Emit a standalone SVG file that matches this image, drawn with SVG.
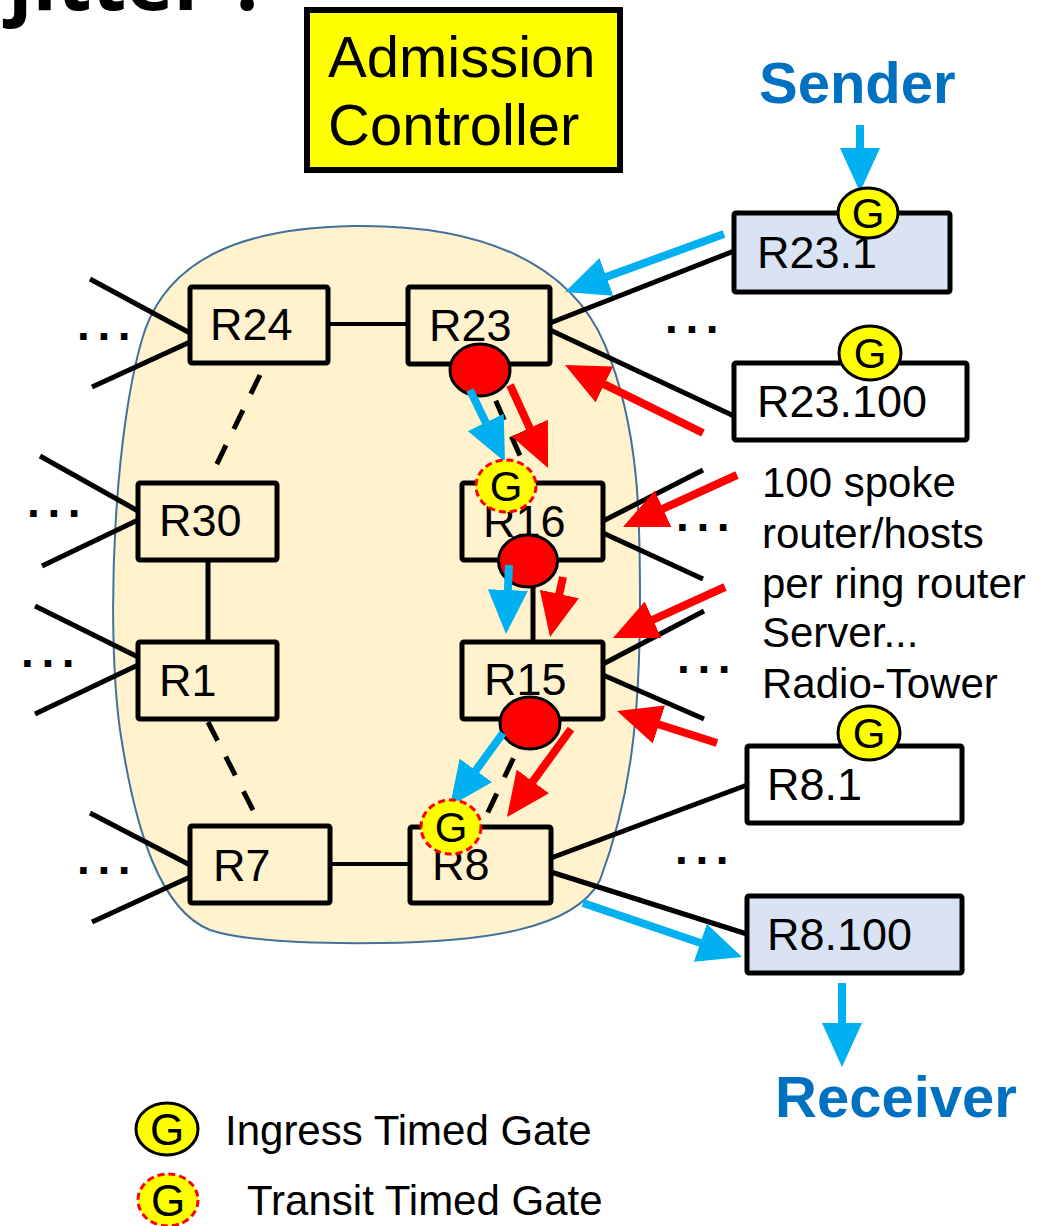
<svg xmlns="http://www.w3.org/2000/svg" width="1039" height="1226" viewBox="0 0 1039 1226">
<defs>
<style>
text{font-family:"Liberation Sans",Arial,sans-serif;fill:#000}
.box{stroke:#000;stroke-width:5}
.ring{fill:#FFF2CC}
.host{fill:#FFFFFF}
.ep{fill:#DAE3F3}
.lbl{font-size:45px}
.side{font-size:42px}
.dots{font-size:46px;font-weight:bold;letter-spacing:7.6px}
.ln{stroke:#000;stroke-width:5;fill:none}
.thin{stroke-width:4}
.dash{stroke-dasharray:21 18}
.ab{stroke:#00B0F0;stroke-width:8;fill:none;marker-end:url(#hb)}
.ar{stroke:#FF0000;stroke-width:8;fill:none;marker-end:url(#hr)}
.red{fill:#FF0000;stroke:#000;stroke-width:3}
.gi{fill:#FFFF00;stroke:#000;stroke-width:3}
.gt{fill:#FFFF00;stroke:#FF0000;stroke-width:3;stroke-dasharray:7 4}
.gl{font-size:42px;text-anchor:middle}
.big{font-weight:bold;fill:#0070C0;font-size:58px}
</style>
<marker id="hb" markerUnits="userSpaceOnUse" markerWidth="44" markerHeight="40" refX="12" refY="20" orient="auto" viewBox="0 0 44 40"><path d="M0,0 L44,20 L0,40 Z" fill="#00B0F0"/></marker>
<marker id="hr" markerUnits="userSpaceOnUse" markerWidth="44" markerHeight="40" refX="12" refY="20" orient="auto" viewBox="0 0 44 40"><path d="M0,0 L44,20 L0,40 Z" fill="#FF0000"/></marker>
</defs>
<rect width="1039" height="1226" fill="#FFFFFF"/>
<text x="8" y="10" style="font-family:'Open Sans',sans-serif;font-weight:bold;font-size:80px">jitter ?</text>

<g id="cloud">
<path d="M353,226 C480,224 570,262 605,345 C640,430 640,520 640,600 C640,720 630,800 600,880 C575,930 480,942 380,943 C300,944 240,940 210,930 C160,910 135,830 120,730 C105,620 115,420 145,330 C170,260 240,228 353,226 Z" fill="#FFF2CC" stroke="#41719C" stroke-width="2"/>
</g>

<g id="admission">
<rect x="307" y="10" width="313" height="160" fill="#FFFF00" stroke="#000" stroke-width="6"/>
<text x="328" y="77" style="font-size:58px">Admission</text>
<text x="328" y="145" style="font-size:58px">Controller</text>
</g>

<g id="connectors">
<line class="ln thin" x1="328" y1="324" x2="408" y2="324"/>
<line class="ln dash" x1="260" y1="375" x2="213" y2="472"/>
<line class="ln" x1="208" y1="560" x2="208" y2="642"/>
<line class="ln dash" x1="208" y1="722" x2="257" y2="818"/>
<line class="ln thin" x1="330" y1="864" x2="410" y2="864"/>
<line class="ln dash" x1="480" y1="365" x2="532" y2="483"/>
<line class="ln" x1="533" y1="587" x2="533" y2="642"/>
<line class="ln dash" x1="530" y1="723" x2="481" y2="827"/>
<line class="ln" x1="90" y1="279" x2="190" y2="333"/>
<line class="ln" x1="92" y1="387" x2="190" y2="342"/>
<line class="ln" x1="40" y1="456" x2="138" y2="511"/>
<line class="ln" x1="42" y1="566" x2="138" y2="520"/>
<line class="ln" x1="35" y1="606" x2="138" y2="657"/>
<line class="ln" x1="35" y1="714" x2="138" y2="665"/>
<line class="ln" x1="90" y1="813" x2="190" y2="865"/>
<line class="ln" x1="92" y1="922" x2="190" y2="877"/>
<line class="ln" x1="550" y1="323" x2="734" y2="251"/>
<line class="ln" x1="550" y1="330" x2="734" y2="416"/>
<line class="ln" x1="603" y1="521" x2="703" y2="470"/>
<line class="ln" x1="603" y1="533" x2="703" y2="579"/>
<line class="ln" x1="603" y1="664" x2="704" y2="611"/>
<line class="ln" x1="603" y1="675" x2="704" y2="719"/>
<line class="ln" x1="551" y1="858" x2="747" y2="785"/>
<line class="ln" x1="551" y1="872" x2="747" y2="934"/>
<text class="dots" x="77" y="340">...</text>
<text class="dots" x="27" y="517">...</text>
<text class="dots" x="21" y="667">...</text>
<text class="dots" x="77" y="874">...</text>
<text class="dots" x="665" y="333">...</text>
<text class="dots" x="676" y="531">...</text>
<text class="dots" x="677" y="673">...</text>
<text class="dots" x="675" y="864">...</text>
</g>

<g id="R24"><rect class="box ring" x="190" y="287" width="138" height="76" rx="2"/><text class="lbl" x="210" y="340">R24</text></g>
<g id="R23"><rect class="box ring" x="408" y="287" width="142" height="77" rx="2"/><text class="lbl" x="429" y="341">R23</text></g>
<g id="R30"><rect class="box ring" x="138" y="483" width="139" height="77" rx="2"/><text class="lbl" x="159" y="536">R30</text></g>
<g id="R1"><rect class="box ring" x="138" y="642" width="139" height="77" rx="2"/><text class="lbl" x="159" y="696">R1</text></g>
<g id="R16"><rect class="box ring" x="462" y="483" width="141" height="77" rx="2"/><text class="lbl" x="483" y="537">R16</text></g>
<g id="R15"><rect class="box ring" x="462" y="642" width="141" height="77" rx="2"/><text class="lbl" x="484" y="695">R15</text></g>
<g id="R7"><rect class="box ring" x="190" y="826" width="140" height="77" rx="2"/><text class="lbl" x="213" y="881">R7</text></g>
<g id="R8"><rect class="box ring" x="410" y="827" width="141" height="76" rx="2"/><text class="lbl" x="432" y="880">R8</text></g>
<g id="R23.1"><rect class="box ep" x="734" y="213" width="216" height="79" rx="2"/><text class="lbl" x="757" y="268">R23.1</text></g>
<g id="R23.100"><rect class="box host" x="734" y="363" width="233" height="77" rx="2"/><text class="lbl" x="757" y="417">R23.100</text></g>
<g id="R8.1"><rect class="box host" x="747" y="746" width="215" height="77" rx="2"/><text class="lbl" x="767" y="800">R8.1</text></g>
<g id="R8.100"><rect class="box ep" x="747" y="896" width="215" height="77" rx="2"/><text class="lbl" x="767" y="950">R8.100</text></g>

<g id="queues">
<ellipse class="red" cx="480" cy="370" rx="30" ry="26"/>
<ellipse class="red" cx="528" cy="561" rx="29.5" ry="26"/>
<ellipse class="red" cx="530" cy="723" rx="30" ry="26"/>
</g>

<g id="arrows">
<line class="ab" x1="860" y1="125" x2="860" y2="160"/>
<line class="ab" x1="724" y1="234" x2="595.1" y2="281"/>
<line class="ab" x1="470" y1="390" x2="491" y2="433.2"/>
<line class="ab" x1="509" y1="565" x2="507.4" y2="602"/>
<line class="ab" x1="503" y1="733" x2="468.8" y2="780.1"/>
<line class="ab" x1="583" y1="903" x2="711.7" y2="946.7"/>
<line class="ab" x1="842" y1="983" x2="842" y2="1035"/>
<line class="ar" x1="703" y1="433" x2="593.7" y2="379.1"/>
<line class="ar" x1="510" y1="385" x2="534.7" y2="438.9"/>
<line class="ar" x1="737" y1="475" x2="652.1" y2="513.7"/>
<line class="ar" x1="563" y1="577" x2="556.8" y2="605.7"/>
<line class="ar" x1="725" y1="587" x2="642.1" y2="624.7"/>
<line class="ar" x1="717" y1="743" x2="647.5" y2="720.8"/>
<line class="ar" x1="571" y1="729" x2="525.8" y2="791.1"/>
</g>

<g id="gates">
<ellipse class="gi" cx="868" cy="213" rx="30" ry="25"/><text class="gl" x="868" y="228">G</text>
<ellipse class="gi" cx="870" cy="353" rx="31" ry="27"/><text class="gl" x="870" y="368">G</text>
<ellipse class="gi" cx="869" cy="733" rx="31" ry="27"/><text class="gl" x="869" y="748">G</text>
<ellipse class="gt" cx="506" cy="486" rx="30" ry="26"/><text class="gl" x="506" y="501">G</text>
<ellipse class="gt" cx="451" cy="827" rx="30" ry="27"/><text class="gl" x="451" y="842">G</text>
</g>

<g id="labels">
<text class="big" x="759" y="103">Sender</text>
<text class="big" x="775" y="1117">Receiver</text>
<text class="side" x="762" y="497">100 spoke</text>
<text class="side" x="762" y="548">router/hosts</text>
<text class="side" x="762" y="598">per ring router</text>
<text class="side" x="762" y="647">Server...</text>
<text class="side" x="762" y="698">Radio-Tower</text>
</g>

<g id="legend">
<ellipse class="gi" cx="167" cy="1129" rx="31" ry="26"/><text class="gl" x="167" y="1145" style="font-size:44px">G</text>
<text class="side" x="225" y="1145">Ingress Timed Gate</text>
<ellipse class="gt" cx="168" cy="1200" rx="30" ry="26"/><text class="gl" x="168" y="1216" style="font-size:44px">G</text>
<text class="side" x="247" y="1215">Transit Timed Gate</text>
</g>
</svg>
